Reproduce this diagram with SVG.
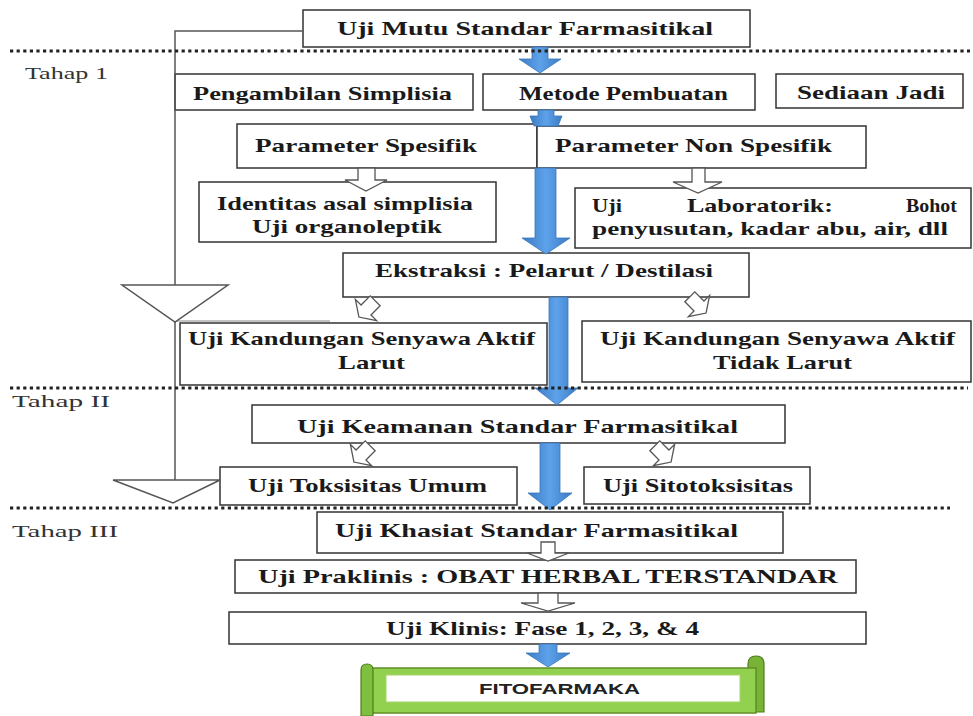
<svg xmlns="http://www.w3.org/2000/svg" width="973" height="716" viewBox="0 0 973 716">
<style>
.box{fill:#fff;stroke:#333;stroke-width:1.5}
.t{font-family:"Liberation Serif","Times New Roman",serif;font-weight:bold;font-size:19px;fill:#1a1a1a}
.lbl{font-family:"Liberation Serif","Times New Roman",serif;font-size:17px;fill:#333}
.ln{fill:none;stroke:#555;stroke-width:1.5}
.tri{fill:#fff;stroke:#555;stroke-width:1.5}
.blue{fill:url(#bg);stroke:#3a76b8;stroke-width:0.8}
.wa{fill:#fff;stroke:#555;stroke-width:1.3}
.dot{stroke:#222;stroke-width:3;stroke-dasharray:3.2 3.4;fill:none}
</style>
<defs>
<linearGradient id="bg" x1="0" y1="0" x2="1" y2="0">
<stop offset="0" stop-color="#3b7bc4"/>
<stop offset="0.5" stop-color="#5da2ea"/>
<stop offset="1" stop-color="#3b7bc4"/>
</linearGradient>
<path id="wa" d="M-7,-13 L7,-13 L7,0 L15,0 L0,10 L-15,0 L-7,0 Z"/>
</defs>

<g id="nodes">
<g id="mutu"><rect class="box" x="303" y="10" width="447" height="37"/><text class="t" x="337" y="35" textLength="376" lengthAdjust="spacingAndGlyphs">Uji Mutu Standar Farmasitikal</text></g>
<g id="pengambilan"><rect class="box" x="175" y="74" width="298" height="36"/><text class="t" x="193" y="100" textLength="259" lengthAdjust="spacingAndGlyphs">Pengambilan Simplisia</text></g>
<g id="metode"><rect class="box" x="483" y="74" width="272" height="36"/><text class="t" x="519" y="100" textLength="209" lengthAdjust="spacingAndGlyphs">Metode Pembuatan</text></g>
<g id="sediaan"><rect class="box" x="776" y="74" width="187" height="34"/><text class="t" x="797" y="99" textLength="148" lengthAdjust="spacingAndGlyphs">Sediaan Jadi</text></g>
<g id="param-spesifik"><rect class="box" x="237" y="124" width="300" height="44"/><text class="t" x="255" y="152" textLength="222" lengthAdjust="spacingAndGlyphs">Parameter Spesifik</text></g>
<g id="param-non"><rect class="box" x="537" y="126" width="329" height="42"/><text class="t" x="555" y="152" textLength="277" lengthAdjust="spacingAndGlyphs">Parameter Non Spesifik</text></g>
<g id="identitas"><rect class="box" x="199" y="182" width="297" height="60"/><text class="t" x="217" y="210" textLength="256" lengthAdjust="spacingAndGlyphs">Identitas asal simplisia</text><text class="t" x="252" y="233" textLength="190" lengthAdjust="spacingAndGlyphs">Uji organoleptik</text></g>
<g id="laboratorik"><rect class="box" x="575" y="188" width="396" height="60"/><text class="t" x="592" y="212" textLength="30" lengthAdjust="spacingAndGlyphs">Uji</text><text class="t" x="687" y="212" textLength="146" lengthAdjust="spacingAndGlyphs">Laboratorik:</text><text class="t" x="906" y="212" textLength="51" lengthAdjust="spacingAndGlyphs">Bohot</text><text class="t" x="592" y="235" textLength="356" lengthAdjust="spacingAndGlyphs">penyusutan, kadar abu, air, dll</text></g>
<g id="ekstraksi"><rect class="box" x="343" y="253" width="406" height="44"/><text class="t" x="375" y="277" textLength="338" lengthAdjust="spacingAndGlyphs">Ekstraksi : Pelarut / Destilasi</text></g>
<g id="larut"><rect class="box" x="180" y="323" width="367" height="62"/><text class="t" x="188" y="345" textLength="347" lengthAdjust="spacingAndGlyphs">Uji Kandungan Senyawa Aktif</text><text class="t" x="338" y="369" textLength="67" lengthAdjust="spacingAndGlyphs">Larut</text></g>
<g id="tidak-larut"><rect class="box" x="582" y="321" width="389" height="61"/><text class="t" x="600" y="345" textLength="355" lengthAdjust="spacingAndGlyphs">Uji Kandungan Senyawa Aktif</text><text class="t" x="713" y="369" textLength="139" lengthAdjust="spacingAndGlyphs">Tidak Larut</text></g>
<g id="keamanan"><rect class="box" x="252" y="405" width="533" height="38"/><text class="t" x="297" y="433" textLength="441" lengthAdjust="spacingAndGlyphs">Uji Keamanan Standar Farmasitikal</text></g>
<g id="toksisitas"><rect class="box" x="220" y="467" width="297" height="38"/><text class="t" x="248" y="492" textLength="239" lengthAdjust="spacingAndGlyphs">Uji Toksisitas Umum</text></g>
<g id="sitotoksisitas"><rect class="box" x="584" y="467" width="226" height="37"/><text class="t" x="603" y="492" textLength="190" lengthAdjust="spacingAndGlyphs">Uji Sitotoksisitas</text></g>
<g id="khasiat"><rect class="box" x="317" y="512" width="466" height="41"/><text class="t" x="335" y="537" textLength="403" lengthAdjust="spacingAndGlyphs">Uji Khasiat Standar Farmasitikal</text></g>
<g id="praklinis"><rect class="box" x="235" y="560" width="621" height="33"/><text class="t" x="258" y="583" textLength="580" lengthAdjust="spacingAndGlyphs">Uji Praklinis : OBAT HERBAL TERSTANDAR</text></g>
<g id="klinis"><rect class="box" x="229" y="612" width="637" height="32"/><text class="t" x="386" y="635" textLength="313" lengthAdjust="spacingAndGlyphs">Uji Klinis: Fase 1, 2, 3, &amp; 4</text></g>
<g id="fitofarmaka">
<path d="M748,712 L748,664 Q748,656 756,656 Q764,656 764,664 L764,712 Z" fill="#78b335" stroke="#4e7d1c" stroke-width="1.2"/>
<rect x="366" y="668" width="390" height="45" fill="#92d050" stroke="#5f8f25" stroke-width="1.5"/>
<path d="M361,716 L361,670 Q361,664 367,664 Q373,664 373,670 L373,716 Z" fill="#7fbf3f" stroke="#4e7d1c" stroke-width="1.2"/>
<rect x="386" y="675" width="354" height="27" fill="#fff" stroke="#a6d46a" stroke-width="1"/>
<text x="479" y="694" textLength="161" lengthAdjust="spacingAndGlyphs" style="font-family:'Liberation Sans',Arial,sans-serif;font-weight:bold;font-size:15px;fill:#222">FITOFARMAKA</text>
</g>
</g>

<g id="connectors">
<polyline class="ln" points="303,31 175,31 175,285"/>
<line class="ln" x1="175" y1="322" x2="175" y2="480"/>
<line class="ln" x1="175" y1="321" x2="330" y2="321" style="stroke:#888;stroke-width:1"/>
<polygon class="tri" points="122,285 228,285 175,322"/>
<polygon class="tri" points="113,480 220,480 173,503"/>
<path class="blue" d="M532,47 L548,47 L548,59 L561,59 L540,73 L519,59 L532,59 Z"/>
<path class="blue" d="M538,110 L554,110 L554,116 L562,116 L558,126 L534,126 L530,116 L538,116 Z"/>
<path class="blue" d="M535,168 L556,168 L556,238 L570,238 L546,254 L522,238 L535,238 Z"/>
<path class="blue" d="M549,297 L568,297 L568,388 L578,388 L557,405 L535,388 L549,388 Z"/>
<path class="blue" d="M540,443 L560,443 L560,493 L572,493 L550,510 L528,493 L540,493 Z"/>
<path class="blue" d="M539,644 L557,644 L557,653 L570,653 L548,667 L526,653 L539,653 Z"/>
<path class="wa" d="M358,168 L375,168 L375,180 L387,180 L366,191 L345,180 L358,180 Z"/>
<path class="wa" d="M692,168 L705,168 L705,182 L722,182 L698,193 L673,182 L692,182 Z"/>
<use href="#wa" class="wa" transform="translate(366,310) rotate(45)"/>
<use href="#wa" class="wa" transform="translate(699,306) rotate(-45)"/>
<use href="#wa" class="wa" transform="translate(361,455) rotate(45)"/>
<use href="#wa" class="wa" transform="translate(664,455) rotate(-45)"/>
<path class="wa" d="M541,542 L555,542 L555,553 L569,553 L548,561 L527,553 L541,553 Z"/>
<path class="wa" d="M538,593 L558,593 L558,603 L575,603 L548,611 L521,603 L538,603 Z"/>
</g>

<g id="stages">
<line class="dot" x1="10" y1="51" x2="970" y2="51"/>
<line class="dot" x1="10" y1="388" x2="968" y2="388"/>
<line class="dot" x1="10" y1="508" x2="950" y2="508"/>
<text class="lbl" x="25" y="79" textLength="83" lengthAdjust="spacingAndGlyphs">Tahap 1</text>
<text class="lbl" x="12" y="407" textLength="98" lengthAdjust="spacingAndGlyphs">Tahap II</text>
<text class="lbl" x="12" y="537" textLength="106" lengthAdjust="spacingAndGlyphs">Tahap III</text>
</g>
</svg>
